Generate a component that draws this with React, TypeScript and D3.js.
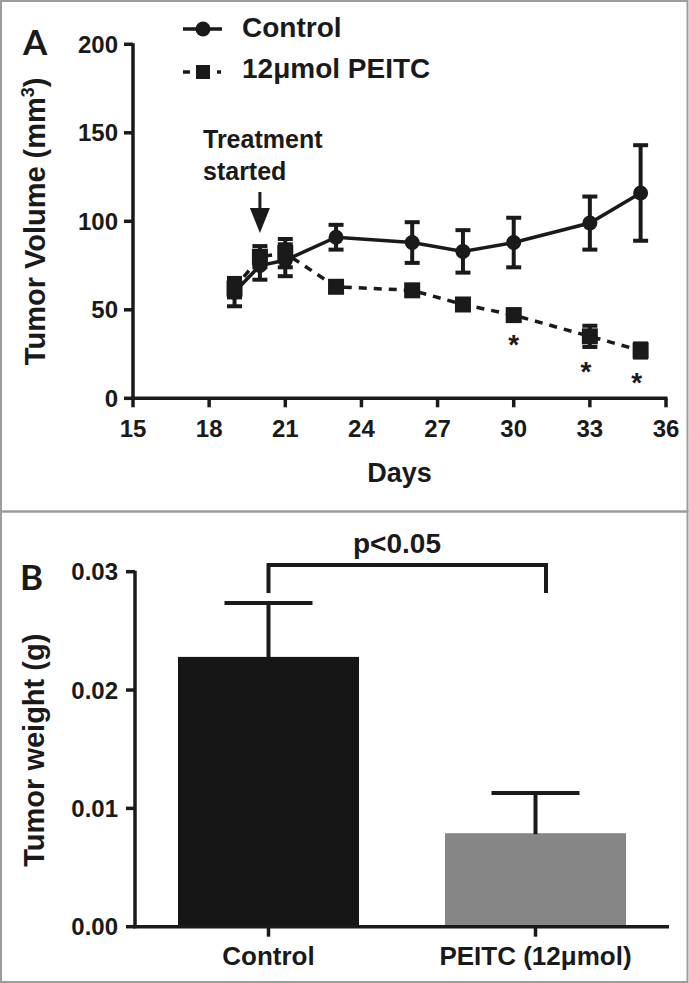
import React from "react";
import * as d3 from "d3";

// ---- Panel A data ----
const days = [19, 20, 21, 23, 26, 28, 30, 33, 35];
const controlMean = [60, 75, 78, 91, 88, 83, 88, 99, 116];
const controlSem = [8, 8, 9, 7, 11.5, 12, 14, 15, 27];
const peitcMean = [62, 80, 82, 63, 61, 53, 47, 35, 27];
const peitcSem = [5, 6, 8, 2, 2, 3, 3, 6, 4];
const asteriskDays = [30, 33, 35];
const xTicksA = [15, 18, 21, 24, 27, 30, 33, 36];
const yTicksA = [0, 50, 100, 150, 200];
const legendLabels = ["Control", "12\u03bcmol PEITC"];

// ---- Panel B data ----
const groups = ["Control", "PEITC (12\u03bcmol)"];
const weightMean = [0.0228, 0.0079];
const weightSem = [0.00455, 0.0034];
const yTicksB = [0, 0.01, 0.02, 0.03];
const barColors = ["#161616", "#868686"];

const FONT = "'Liberation Sans', Arial, sans-serif";

export default function App() {
  const xA = d3.scaleLinear().domain([15, 36]).range([133, 666]);
  const yA = d3.scaleLinear().domain([0, 200]).range([398.3, 44.3]);
  const xB = d3
    .scaleBand<string>()
    .domain(groups)
    .range([135, 669])
    .paddingInner(0.322)
    .paddingOuter(0.161);
  const yB = d3.scaleLinear().domain([0, 0.03]).range([926.7, 571.7]);

  const lineGen = d3
    .line<number>()
    .x((_, i) => xA(days[i]))
    .y((v) => yA(v));

  const capW = 15;
  const ink = "#1a1a1a";

  const errBars = (means: number[], sems: number[], key: string) =>
    means.map((m, i) => {
      const x = xA(days[i]);
      const y1 = yA(m + sems[i]);
      const y2 = yA(m - sems[i]);
      return (
        <g key={key + i} stroke={ink} strokeWidth={4}>
          <line x1={x} x2={x} y1={y1} y2={y2} />
          <line x1={x - capW / 2} x2={x + capW / 2} y1={y1} y2={y1} />
          <line x1={x - capW / 2} x2={x + capW / 2} y1={y2} y2={y2} />
        </g>
      );
    });

  const fmtB = d3.format(".2f");

  return (
    <svg
      width={689}
      height={983}
      style={{ position: "absolute", left: 0, top: 0, background: "#fff" }}
      fontFamily={FONT}
      fontWeight="bold"
    >
      <rect x={0} y={0} width={689} height={983} fill="#fff" />
      {/* frames */}
      <g stroke="#9c9c9c" strokeWidth={2} fill="none">
        <rect x={1} y={1} width={686.5} height={510.5} />
        <rect x={1} y={511.5} width={686.5} height={470.5} />
      </g>

      {/* ============ Panel A ============ */}
      <text x={23} y={55} fontSize={35} fill={ink} fontFamily="Lato, 'Open Sans', sans-serif">
        A
      </text>

      {/* axes */}
      <g stroke={ink} strokeWidth={3.5} fill="none">
        <line x1={xA(15)} x2={xA(15)} y1={yA(200) - 1} y2={yA(0) + 1.5} />
        <line x1={xA(15) - 1.5} x2={xA(36) + 1.5} y1={yA(0)} y2={yA(0)} />
        {yTicksA.map((t) => (
          <line key={"yt" + t} x1={xA(15) - 9} x2={xA(15)} y1={yA(t)} y2={yA(t)} />
        ))}
        {xTicksA.map((t) => (
          <line key={"xt" + t} x1={xA(t)} x2={xA(t)} y1={yA(0)} y2={yA(0) + 9} />
        ))}
      </g>
      {yTicksA.map((t) => (
        <text key={"ytl" + t} x={118} y={yA(t) + 8.5} fontSize={24} textAnchor="end" fill={ink}>
          {t}
        </text>
      ))}
      {xTicksA.map((t) => (
        <text key={"xtl" + t} x={xA(t)} y={437} fontSize={24} textAnchor="middle" fill={ink}>
          {t}
        </text>
      ))}
      <text x={(xA(15) + xA(36)) / 2} y={482} fontSize={27} textAnchor="middle" fill={ink}>
        Days
      </text>
      <text
        transform={`translate(45, ${(yA(0) + yA(200)) / 2}) rotate(-90)`}
        fontSize={29}
        textAnchor="middle"
        fill={ink}
      >
        Tumor Volume (mm
        <tspan fontSize={18} dy={-11}>
          3
        </tspan>
        <tspan dy={11}>)</tspan>
      </text>

      {/* Control series */}
      <path d={lineGen(controlMean) || ""} fill="none" stroke={ink} strokeWidth={3.5} />
      {errBars(controlMean, controlSem, "ce")}
      {controlMean.map((m, i) => (
        <circle key={"cc" + i} cx={xA(days[i])} cy={yA(m)} r={7.5} fill={ink} />
      ))}

      {/* PEITC series */}
      <path
        d={lineGen(peitcMean) || ""}
        fill="none"
        stroke={ink}
        strokeWidth={3.5}
        strokeDasharray="8 7"
      />
      {errBars(peitcMean, peitcSem, "pe")}
      {peitcMean.map((m, i) => (
        <rect key={"ps" + i} x={xA(days[i]) - 8} y={yA(m) - 8} width={16} height={16} fill={ink} />
      ))}

      {/* asterisks */}
      {asteriskDays.map((d) => {
        const i = days.indexOf(d);
        return (
          <text
            key={"ast" + d}
            x={xA(d) - (d === 30 ? 0 : 4)}
            y={yA(peitcMean[i] - peitcSem[i]) + 34}
            fontSize={28}
            textAnchor="middle"
            fill={ink}
          >
            *
          </text>
        );
      })}

      {/* treatment annotation */}
      <text x={203} y={148} fontSize={25} fill={ink}>
        Treatment
      </text>
      <text x={203} y={180} fontSize={25} fill={ink}>
        started
      </text>
      <line x1={xA(20)} x2={xA(20)} y1={192} y2={212} stroke={ink} strokeWidth={3} />
      <path
        d={`M${xA(20) - 10},208 L${xA(20) + 10},208 L${xA(20)},233 Z`}
        fill={ink}
      />

      {/* legend */}
      <line x1={183} x2={222} y1={29} y2={29} stroke={ink} strokeWidth={3.5} />
      <circle cx={203} cy={29} r={7.5} fill={ink} />
      <text x={242} y={37} fontSize={28} fill={ink}>
        {legendLabels[0]}
      </text>
      <line
        x1={183}
        x2={222}
        y1={72}
        y2={72}
        stroke={ink}
        strokeWidth={3.5}
        strokeDasharray="7 27 4"
      />
      <rect x={196} y={65} width={14} height={14} fill={ink} />
      <text x={242} y={78} fontSize={28} fill={ink}>
        {legendLabels[1]}
      </text>

      {/* ============ Panel B ============ */}
      <text x={20} y={590} fontSize={35} fill={ink} fontFamily="Lato, 'Open Sans', sans-serif">
        B
      </text>

      {groups.map((g, i) => (
        <rect
          key={"bar" + g}
          x={xB(g)!}
          y={yB(weightMean[i])}
          width={xB.bandwidth()}
          height={yB(0) - yB(weightMean[i])}
          fill={barColors[i]}
        />
      ))}
      {groups.map((g, i) => {
        const cx = xB(g)! + xB.bandwidth() / 2;
        const top = yB(weightMean[i] + weightSem[i]);
        return (
          <g key={"be" + g} stroke={ink} strokeWidth={4}>
            <line x1={cx} x2={cx} y1={top} y2={yB(weightMean[i]) + 1} />
            <line x1={cx - 44} x2={cx + 44} y1={top} y2={top} />
          </g>
        );
      })}

      <g stroke={ink} strokeWidth={3.5} fill="none">
        <line x1={135} x2={135} y1={yB(0.03) - 1} y2={yB(0) + 1.5} />
        <line x1={133.5} x2={669} y1={yB(0)} y2={yB(0)} />
        {yTicksB.map((t) => (
          <line key={"ytb" + t} x1={126} x2={135} y1={yB(t)} y2={yB(t)} />
        ))}
        {groups.map((g) => {
          const cx = xB(g)! + xB.bandwidth() / 2;
          return <line key={"xtb" + g} x1={cx} x2={cx} y1={yB(0)} y2={yB(0) + 10} />;
        })}
      </g>
      {yTicksB.map((t) => (
        <text key={"ytlb" + t} x={118} y={yB(t) + 8.5} fontSize={24} textAnchor="end" fill={ink}>
          {fmtB(t)}
        </text>
      ))}
      {groups.map((g) => (
        <text
          key={"cat" + g}
          x={xB(g)! + xB.bandwidth() / 2}
          y={965}
          fontSize={26}
          textAnchor="middle"
          fill={ink}
        >
          {g}
        </text>
      ))}
      <text
        transform={`translate(43.5, ${(yB(0) + yB(0.03)) / 2 + 1}) rotate(-90)`}
        fontSize={29}
        textAnchor="middle"
        fill={ink}
      >
        Tumor weight (g)
      </text>

      {/* significance bracket */}
      <path
        d={`M${xB(groups[0])! + xB.bandwidth() / 2},593 L${xB(groups[0])! + xB.bandwidth() / 2},565 L546,565 L546,593`}
        fill="none"
        stroke={ink}
        strokeWidth={4}
      />
      <text x={397} y={553} fontSize={28} textAnchor="middle" fill={ink}>
        p&lt;0.05
      </text>
    </svg>
  );
}
